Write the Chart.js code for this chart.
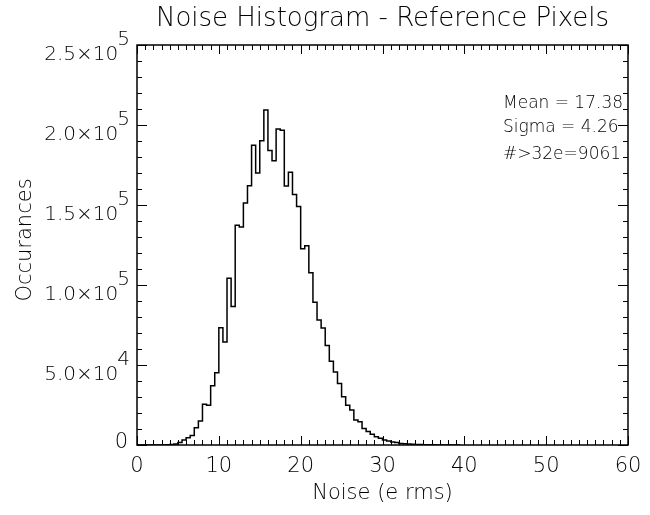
<!DOCTYPE html>
<html>
<head>
<meta charset="utf-8">
<script src="https://cdn.jsdelivr.net/npm/chart.js@4.4.1/dist/chart.umd.min.js"></script>
<style>
  html, body { margin: 0; padding: 0; background: #fff; }
  #wrap { width: 650px; height: 515px; position: relative; }
</style>
</head>
<body>
<div id="wrap"><canvas id="histChart"></canvas></div>
<script>
// histogram bins, 0.5 e wide, starting at 0
const binWidth = 0.5;
const counts = [
    0, 0, 0, 0, 0, 0, 0, 0, 100, 250,
    600, 1500, 3100, 4600, 6000, 10800, 15000, 25400, 24900, 37000,
    45200, 73300, 64400, 104200, 86500, 137300, 136300, 151300, 162100, 187300,
    170000, 190200, 209400, 184000, 177700, 197500, 196700, 161900, 170400, 156500,
    149000, 122700, 124600, 107700, 89200, 78100, 73100, 62200, 52300, 45600,
    38500, 30200, 24900, 21900, 15600, 14600, 10300, 8500, 6700, 5200,
    4200, 3100, 2500, 1900, 1500, 1000, 800, 600, 400, 350,
    250, 200, 150, 100, 60, 40, 20, 0, 0, 0
];

const xTicks = [0, 10, 20, 30, 40, 50, 60];
const yTicks = [0, 50000, 100000, 150000, 200000, 250000];
const yTickMant = ['0', '5.0\u00d710', '1.0\u00d710', '1.5\u00d710', '2.0\u00d710', '2.5\u00d710'];
const yTickExp = ['', '4', '5', '5', '5', '5'];

const statsText = ['Mean = 17.38', 'Sigma = 4.26', '#>32e=9061'];

const FONT = '"DejaVu Sans", sans-serif';

const points = counts.map((c, i) => ({ x: i * binWidth, y: c }));

// frame, inward ticks, tick labels, titles, stats
const idlAxes = {
    id: 'idlAxes',
    afterDatasetsDraw(chart) {
        const ctx = chart.ctx;
        const area = chart.chartArea;
        const xs = chart.scales.x;
        const ys = chart.scales.y;
        ctx.save();
        ctx.strokeStyle = '#000';
        ctx.fillStyle = '#000';
        ctx.lineWidth = 1.5;
        ctx.strokeRect(area.left, area.top, area.right - area.left, area.bottom - area.top);

        ctx.lineWidth = 1;
        ctx.beginPath();
        for (let v = 0; v <= 60; v += 1) {
            const px = Math.round(xs.getPixelForValue(v)) + 0.5;
            const len = v % 10 === 0 ? 9 : 5;
            ctx.moveTo(px, area.bottom); ctx.lineTo(px, area.bottom - len);
            ctx.moveTo(px, area.top); ctx.lineTo(px, area.top + len);
        }
        for (let v = 0; v <= 250000; v += 10000) {
            const py = Math.round(ys.getPixelForValue(v)) + 0.5;
            const len = v % 50000 === 0 ? 10 : 5;
            ctx.moveTo(area.left, py); ctx.lineTo(area.left + len, py);
            ctx.moveTo(area.right, py); ctx.lineTo(area.right - len, py);
        }
        ctx.stroke();

        // x tick labels
        ctx.textAlign = 'center';
        ctx.textBaseline = 'middle';
        ctx.font = '300 21px ' + FONT;
        xTicks.forEach(v => {
            ctx.fillText(String(v), xs.getPixelForValue(v), area.bottom + 22);
        });
        ctx.fillText('Noise (e rms)', (area.left + area.right) / 2, area.bottom + 49);

        // y tick labels
        ctx.textAlign = 'right';
        ctx.textBaseline = 'alphabetic';
        yTicks.forEach((v, i) => {
            const py = ys.getPixelForValue(v);
            const right = area.left - 7;
            if (yTickExp[i] === '') {
                ctx.font = '300 21px ' + FONT;
                ctx.fillText(yTickMant[i], right - 2, py + 3);
                return;
            }
            ctx.font = '300 20px ' + FONT;
            const ew = ctx.measureText(yTickExp[i]).width;
            ctx.fillText(yTickExp[i], right, py);
            ctx.font = '300 20px ' + FONT;
            ctx.fillText(yTickMant[i], right - ew + 1, py + 15);
        });

        // main title
        ctx.textAlign = 'center';
        ctx.font = '300 26px ' + FONT;
        ctx.fillText('Noise Histogram - Reference Pixels', (area.left + area.right) / 2, 26);

        // y axis title
        ctx.save();
        ctx.translate(31, (area.top + area.bottom) / 2 - 5);
        ctx.rotate(-Math.PI / 2);
        ctx.font = '300 21px ' + FONT;
        ctx.fillText('Occurances', 0, 0);
        ctx.restore();

        // stats
        ctx.textAlign = 'left';
        ctx.font = '300 17px ' + FONT;
        ctx.fillText(statsText[0], 503, 108);
        ctx.fillText(statsText[1], 503, 132);
        ctx.fillText(statsText[2], 503, 159);
        ctx.restore();
    }
};

const ctx = document.getElementById('histChart').getContext('2d');
const histChart = new Chart(ctx, {
    type: 'line',
    data: {
        datasets: [{
            label: 'Noise',
            data: points,
            stepped: 'after',
            borderColor: '#000',
            borderWidth: 1.5,
            pointRadius: 0,
            fill: false
        }]
    },
    options: {
        responsive: true,
        maintainAspectRatio: false,
        animation: false,
        layout: {
            padding: { left: 137, right: 22, top: 45, bottom: 70 }
        },
        plugins: {
            legend: { display: false },
            tooltip: { enabled: false }
        },
        scales: {
            x: {
                type: 'linear',
                display: false,
                min: 0,
                max: 60
            },
            y: {
                display: false,
                min: 0,
                max: 250000
            }
        }
    },
    plugins: [idlAxes]
});
</script>
</body>
</html>
